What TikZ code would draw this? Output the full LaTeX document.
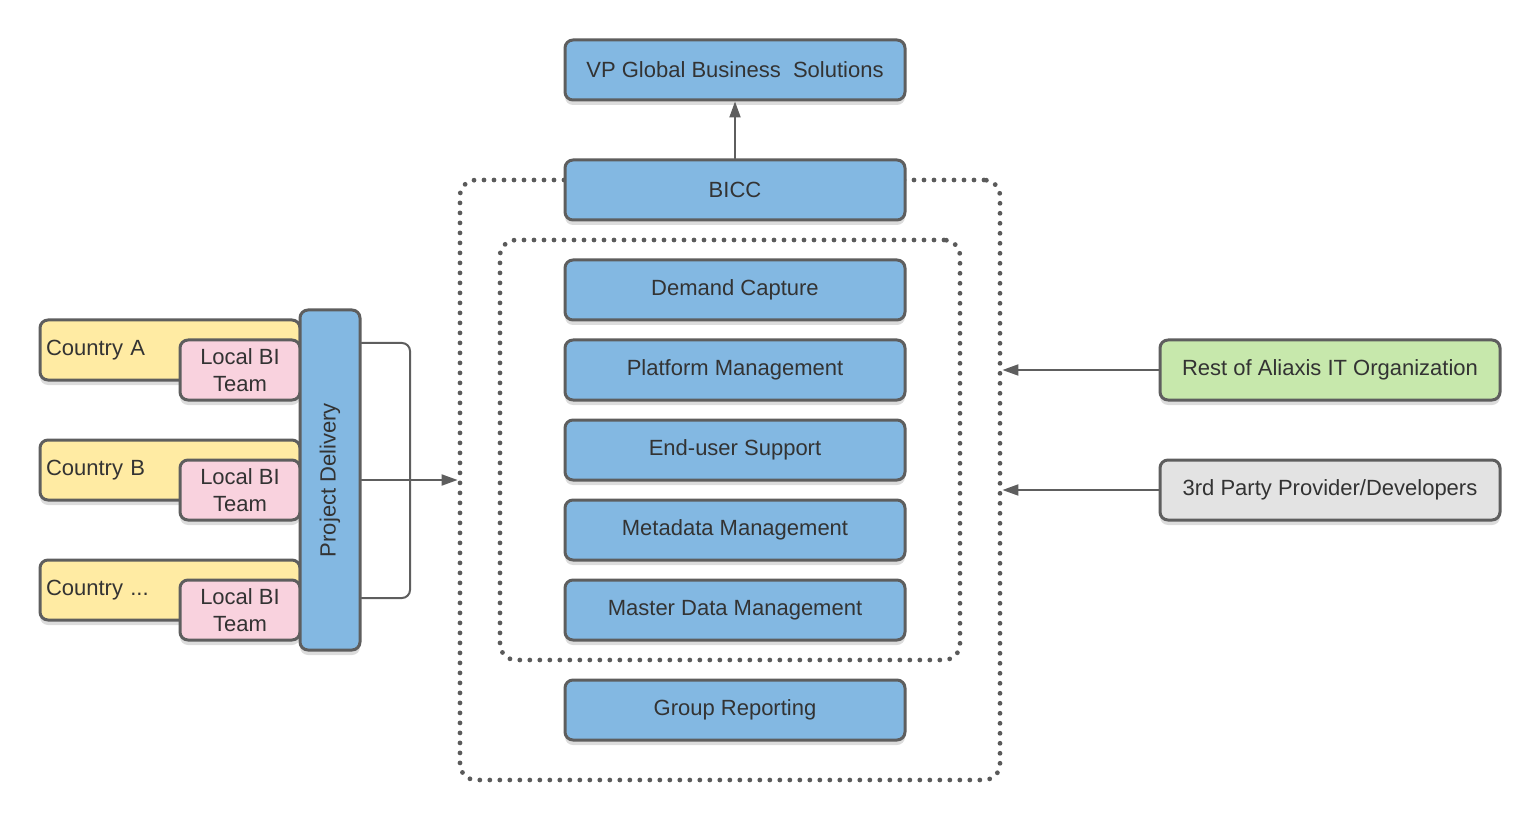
\documentclass[tikz,border=0pt]{standalone}
\usepackage{fontspec}
\setmainfont{Liberation Sans}
\usetikzlibrary{arrows.meta,shadows}
\definecolor{edge}{HTML}{5E5E5E}
\definecolor{ink}{HTML}{333333}
\definecolor{dotgray}{HTML}{5A5A5A}
\definecolor{boxblue}{HTML}{83B8E2}
\definecolor{cyellow}{HTML}{FFEBA3}
\definecolor{cpink}{HTML}{F9D2DE}
\definecolor{cgreen}{HTML}{C7E8AC}
\definecolor{cgray}{HTML}{E3E3E3}
\begin{document}
\begin{tikzpicture}[x=0.5pt,y=-0.5pt,font=\fontsize{11}{13.5}\selectfont,line join=round,line cap=round,>={Triangle[length=8pt,width=5.5pt]},
  box/.style={draw=edge,line width=1.5pt,rounded corners=4pt,text=ink,inner sep=0pt,minimum height=30pt,
    drop shadow={shadow xshift=0pt,shadow yshift=-2.5pt,opacity=0.28}},
  wide/.style={box,fill=boxblue,minimum width=170pt},
  country/.style={box,fill=cyellow,text width=124pt,inner xsep=3pt,align=left},
  localbi/.style={box,fill=cpink,minimum width=60pt,align=center},
  frame/.style={draw=dotgray,line width=2.4pt,dash pattern=on 0pt off 5pt,rounded corners=8pt,inner sep=0pt},
  conn/.style={draw=edge,line width=1pt}]
    \useasboundingbox (0,0) rectangle (1540,823);
    % dotted frames
    \node[frame,minimum width=270pt,minimum height=300pt] (outer) at (730,480) {};
    \node[frame,minimum width=230pt,minimum height=210pt] (inner) at (730,450) {};
    % centre column
    \node[wide] (vp) at (735,70) {VP Global Business\ \ Solutions};
    \node[wide] (bicc) at (735,190) {BICC};
    \node[wide] (demand) at (735,290) {Demand Capture};
    \node[wide] (platform) at (735,370) {Platform Management};
    \node[wide] (support) at (735,450) {End-user Support};
    \node[wide] (meta) at (735,530) {Metadata Management};
    \node[wide] (master) at (735,610) {Master Data Management};
    \node[wide] (group) at (735,710) {Group Reporting};
    \draw[conn,->] (bicc.north) -- (vp.south);
    % countries
    \foreach \c/\n/\y in {a/A/350,b/B/470,c/{.{}.{}.}/590}{
      \node[country] (country\c) at (170,\y) {Country \n};
      \node[localbi] (local\c) at (240,\y+20) {Local BI\\Team};
    }
    \node[box,fill=boxblue,minimum width=30pt,minimum height=170pt] (pd) at (330,480) {\rotatebox{90}{Project Delivery}};
    \coordinate (bt) at (410,480);
    \draw[conn,rounded corners=4pt] ([yshift=68.5pt]pd.east) -| (bt) |- ([yshift=-59pt]pd.east);
    \draw[conn,->] (pd.east) -- (outer.west);
    % right side
    \node[wide,fill=cgreen] (rest) at (1330,370) {Rest of Aliaxis IT Organization};
    \node[wide,fill=cgray] (third) at (1330,490) {3rd Party Provider/Developers};
    \draw[conn,->] (rest.west) -- (outer.east |- rest.west);
    \draw[conn,->] (third.west) -- (outer.east |- third.west);
\end{tikzpicture}
\end{document}
